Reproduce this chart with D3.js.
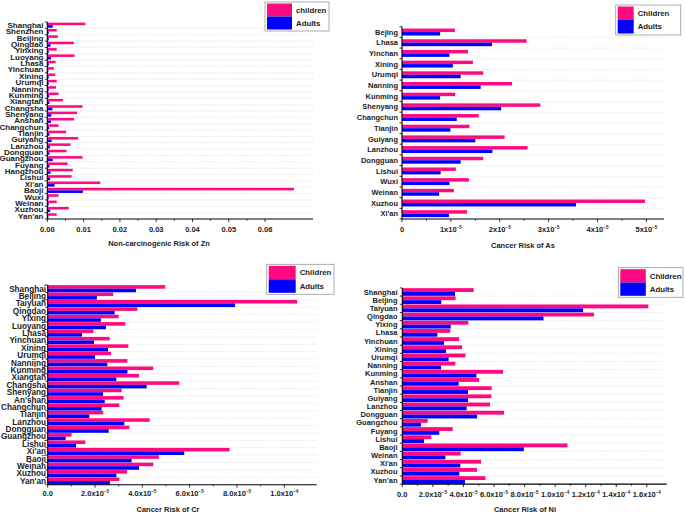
<!DOCTYPE html>
<html><head><meta charset="utf-8">
<script src="https://cdn.jsdelivr.net/npm/d3@7/dist/d3.min.js"></script>
<style>
html,body{margin:0;padding:0;background:#fff;}
svg{display:block;font-family:"Liberation Sans",Arial,sans-serif;font-weight:bold;}
</style></head><body>
<svg id="chart" width="685" height="513"></svg>
<script>
// ---------- Panel A: Zn ----------
const znCities = ["Shanghai","Shenzhen","Beijing","Qingdao","Yinxing","Luoyang","Lhasa","Yinchuan","Xining","Urumqi","Nanning","Kunming","Xiangtan","Changsha","Shenyang","Anshan","Changchun","Tianjin","Guiyang","Lanzhou","Dongguan","Guangzhou","Fuyang","Hangzhou","Lishui","Xi'an","Baoji","Wuxi","Weinan","Xuzhou","Yan'an"];
const znChildren = [0.0105,0.0026,0.0029,0.0073,0.0026,0.0075,0.0023,0.0018,0.0022,0.0026,0.0024,0.0031,0.0043,0.0097,0.0082,0.0074,0.0031,0.0052,0.0085,0.0064,0.0053,0.0097,0.0056,0.0070,0.0067,0.0146,0.0680,0.0031,0.0026,0.0059,0.0026];
const znAdults   = [0.0015,0.0004,0.0004,0.0009,0.0004,0.0010,0.0004,0.0003,0.0004,0.0004,0.0004,0.0005,0.0006,0.0014,0.0011,0.0010,0.0005,0.0006,0.0012,0.0007,0.0006,0.0015,0.0006,0.0009,0.0008,0.0020,0.0098,0.0004,0.0004,0.0008,0.0003];
const znTicks = [0,0.01,0.02,0.03,0.04,0.05,0.06];
const znTickLabels = ["0.00","0.01","0.02","0.03","0.04","0.05","0.06"];

// ---------- Panel B: As ----------
const asCities = ["Bejing","Lhasa","Yinchan","Xining","Urumqi","Nanning","Kunming","Shenyang","Changchun","Tianjin","Guiyang","Lanzhou","Dongguan","Lishui","Wuxi","Weinan","Xuzhou","Xi'an"];
const asChildren = [1.08e-5,2.55e-5,1.35e-5,1.45e-5,1.66e-5,2.25e-5,1.09e-5,2.83e-5,1.57e-5,1.38e-5,2.10e-5,2.57e-5,1.66e-5,1.10e-5,1.37e-5,1.06e-5,4.97e-5,1.33e-5];
const asAdults   = [0.78e-5,1.84e-5,0.97e-5,1.04e-5,1.20e-5,1.61e-5,0.78e-5,2.03e-5,1.12e-5,0.99e-5,1.50e-5,1.85e-5,1.20e-5,0.79e-5,0.97e-5,0.76e-5,3.56e-5,0.96e-5];
const asTicks = [0,1e-5,2e-5,3e-5,4e-5,5e-5];
const asTickLabels = ["0","1x10^-5","2x10^-5","3x10^-5","4x10^-5","5x10^-5"];

// ---------- Panel C: Cr ----------
const crCities = ["Shanghai","Beijing","Taiyuan","Qingdao","Yixing","Luoyang","Lhasa","Yinchuan","Xining","Urumqi","Nanniing","Kunming","Xiangtan","Changsha","Shenyang","An'shan","Changchun","Tianjin","Lanzhou","Dongguan","Guangzhou","Lishui","Xi'an","Baoji","Weinan","Xuzhou","Yan'an"];
const crChildren = [4.97e-5,2.77e-5,10.54e-5,3.79e-5,3.00e-5,3.28e-5,1.93e-5,2.62e-5,3.41e-5,2.68e-5,3.37e-5,4.46e-5,3.86e-5,5.56e-5,3.13e-5,3.21e-5,3.03e-5,2.35e-5,4.31e-5,3.45e-5,1.01e-5,1.59e-5,7.69e-5,4.70e-5,4.46e-5,3.35e-5,3.03e-5];
const crAdults   = [3.73e-5,2.08e-5,7.92e-5,2.83e-5,2.25e-5,2.46e-5,1.45e-5,1.96e-5,2.55e-5,2.00e-5,2.52e-5,3.37e-5,2.90e-5,4.18e-5,2.34e-5,2.41e-5,2.28e-5,1.76e-5,3.24e-5,2.58e-5,0.76e-5,1.20e-5,5.77e-5,3.55e-5,3.86e-5,2.90e-5,2.63e-5];
const crTicks = [0,2e-5,4e-5,6e-5,8e-5,1e-4];
const crTickLabels = ["0.0","2.0x10^-5","4.0x10^-5","6.0x10^-5","8.0x10^-5","1.0x10^-4"];

// ---------- Panel D: Ni ----------
const niCities = ["Shanghai","Beijing","Taiyuan","Qingdao","Yixing","Lhasa","Yinchuan","Xining","Urumqi","Nanning","Kunming","Anshan","Tianjin","Guiyang","Lanzhou","Dongguan","Guangzhou","Fuyang","Lishui","Baoji","Weinan","Xi'an","Xuzhou","Yan'an"];
const niChildren = [4.67e-5,3.49e-5,16.1e-5,12.55e-5,4.32e-5,3.14e-5,3.71e-5,3.91e-5,4.13e-5,3.47e-5,6.59e-5,5.02e-5,5.85e-5,5.83e-5,5.74e-5,6.66e-5,1.66e-5,3.30e-5,1.90e-5,10.81e-5,3.82e-5,5.15e-5,4.89e-5,5.44e-5];
const niAdults   = [3.45e-5,2.55e-5,11.83e-5,9.24e-5,3.17e-5,2.29e-5,2.73e-5,2.86e-5,3.03e-5,2.53e-5,4.85e-5,3.69e-5,4.30e-5,4.30e-5,4.21e-5,4.89e-5,1.22e-5,2.42e-5,1.42e-5,7.95e-5,2.82e-5,3.80e-5,3.73e-5,4.10e-5];
const niTicks = [0,2e-5,4e-5,6e-5,8e-5,1e-4,1.2e-4,1.4e-4,1.6e-4];
const niTickLabels = ["0.0","2.0x10^-5","4.0x10^-5","6.0x10^-5","8.0x10^-5","1.0x10^-4","1.2x10^-4","1.4x10^-4","1.6x10^-4"];

const seriesNames = ["Children","Adults"];
const PINK = "#ff0a80", BLUE = "#0000ff";

const svg = d3.select("#chart");

function drawPanel(cfg){
  const g = svg.append("g");
  const x = d3.scaleLinear().domain([0, cfg.xMax]).range([cfg.x0, cfg.x1]);
  const y = d3.scaleBand().domain(cfg.cities).range([cfg.yTop, cfg.yBot])
              .paddingInner(cfg.pad).paddingOuter(cfg.pad/2);
  const step = y.step(), bw = y.bandwidth();
  const half = bw/2;

  // dotted grid lines at category boundaries
  g.selectAll("line.grid").data(cfg.cities.slice(1)).enter().append("line")
    .attr("x1", cfg.x0).attr("x2", cfg.x1)
    .attr("y1", d => y(d) - step*cfg.pad/2).attr("y2", d => y(d) - step*cfg.pad/2)
    .attr("stroke", "#d8d8d8").attr("stroke-width", 0.8).attr("stroke-dasharray", "1,1.5");

  // bars
  const rows = cfg.cities.map((c,i) => ({c, ch: cfg.children[i], ad: cfg.adults[i]}));
  g.selectAll("rect.ch").data(rows).enter().append("rect")
    .attr("x", x(0)).attr("y", d => y(d.c)).attr("width", d => x(d.ch) - x(0)).attr("height", half)
    .attr("fill", PINK);
  g.selectAll("rect.ad").data(rows).enter().append("rect")
    .attr("x", x(0)).attr("y", d => y(d.c) + half).attr("width", d => x(d.ad) - x(0)).attr("height", half)
    .attr("fill", BLUE);

  // y axis
  g.append("line").attr("x1", cfg.x0).attr("x2", cfg.x0).attr("y1", cfg.yTop).attr("y2", cfg.yBot)
    .attr("stroke", "#000").attr("stroke-width", 1.1);
  const bounds = d3.range(cfg.cities.length + 1).map(i => cfg.yTop + i*step);
  g.selectAll("line.ytick").data(bounds).enter().append("line")
    .attr("x1", cfg.x0 - 2.5).attr("x2", cfg.x0).attr("y1", d => d).attr("y2", d => d)
    .attr("stroke", "#000").attr("stroke-width", 0.8);
  g.selectAll("text.ylab").data(cfg.cities).enter().append("text")
    .attr("x", cfg.labelX).attr("y", d => y(d) + half)
    .attr("dy", "0.35em").attr("text-anchor", "end")
    .attr("font-size", cfg.labelSize).attr("fill", "#222")
    .text(d => d);

  // x axis
  g.append("line").attr("x1", cfg.x0).attr("x2", cfg.x1).attr("y1", cfg.yBot).attr("y2", cfg.yBot)
    .attr("stroke", "#000").attr("stroke-width", 1.1);
  g.selectAll("line.xtick").data(cfg.ticks).enter().append("line")
    .attr("x1", d => x(d)).attr("x2", d => x(d)).attr("y1", cfg.yBot).attr("y2", cfg.yBot + 3)
    .attr("stroke", "#000").attr("stroke-width", 0.8);
  const minor = d3.range(cfg.ticks.length - 1).map(i => (cfg.ticks[i] + cfg.ticks[i+1]) / 2);
  g.selectAll("line.xminor").data(minor).enter().append("line")
    .attr("x1", d => x(d)).attr("x2", d => x(d)).attr("y1", cfg.yBot).attr("y2", cfg.yBot + 1.8)
    .attr("stroke", "#000").attr("stroke-width", 0.7);
  const tl = g.selectAll("text.xlab").data(cfg.ticks).enter().append("text")
    .attr("x", d => x(d)).attr("y", cfg.tickY).attr("text-anchor", "middle")
    .attr("font-size", 7.5).attr("fill", "#222");
  tl.each(function(d, i){
    const parts = cfg.tickLabels[i].split("^");
    const t = d3.select(this);
    t.append("tspan").text(parts[0]);
    if (parts[1]) t.append("tspan").attr("dy", -3).attr("font-size", 4.5).text(parts[1].replace("-", "\u2212"));
  });
  g.append("text").attr("x", cfg.titleX).attr("y", cfg.titleY).attr("text-anchor", "middle")
    .attr("font-size", 7.5).attr("fill", "#222").text(cfg.title);

  // legend
  const L = cfg.legend;
  g.append("rect").attr("x", L.x).attr("y", L.y).attr("width", L.w).attr("height", L.h)
    .attr("fill", "#fff").attr("stroke", "#999").attr("stroke-width", 0.8);
  const ph = (L.h - 3) / 2;
  [PINK, BLUE].forEach((col, i) => {
    g.append("rect").attr("x", L.x + 2).attr("y", L.y + 1.5 + i*ph).attr("width", L.pw).attr("height", ph)
      .attr("fill", col);
    g.append("text").attr("x", L.x + L.pw + 6).attr("y", L.y + 1.5 + i*ph + ph/2).attr("dy", "0.35em")
      .attr("font-size", 7.8).attr("fill", "#222").text(i === 0 ? cfg.legendNames[0] : cfg.legendNames[1]);
  });
}

drawPanel({cities: znCities, children: znChildren, adults: znAdults, xMax: 0.0732,
  x0: 47.3, x1: 313, yTop: 22, yBot: 219, pad: 0.2, labelX: 43.5, labelSize: 8,
  ticks: znTicks, tickLabels: znTickLabels, tickY: 231.5, title: "Non-carcinogenic Risk of Zn",
  titleX: 159, titleY: 245.5, legendNames: ["children", "Adults"],
  legend: {x: 265, y: 2, w: 64, h: 29, pw: 25}});

drawPanel({cities: asCities, children: asChildren, adults: asAdults, xMax: 5.36e-5,
  x0: 402, x1: 664, yTop: 26.7, yBot: 219, pad: 0.35, labelX: 398, labelSize: 7.5,
  ticks: asTicks, tickLabels: asTickLabels, tickY: 231.5, title: "Cancer Risk of As",
  titleX: 523, titleY: 247.5, legendNames: seriesNames,
  legend: {x: 615.7, y: 5, w: 65, h: 30, pw: 16}});

drawPanel({cities: crCities, children: crChildren, adults: crAdults, xMax: 11.37e-5,
  x0: 47.7, x1: 316.7, yTop: 285, yBot: 484.7, pad: 0.04, labelX: 46, labelSize: 8.2,
  ticks: crTicks, tickLabels: crTickLabels, tickY: 496, title: "Cancer Risk of Cr",
  titleX: 168, titleY: 511.5, legendNames: seriesNames,
  legend: {x: 266.7, y: 264.3, w: 67.3, h: 30, pw: 27}});

drawPanel({cities: niCities, children: niChildren, adults: niAdults, xMax: 17.3e-5,
  x0: 402.3, x1: 666.7, yTop: 287.9, yBot: 484.1, pad: 0.06, labelX: 397.5, labelSize: 7.5,
  ticks: niTicks, tickLabels: niTickLabels, tickY: 496.5, title: "Cancer Risk of Ni",
  titleX: 525, titleY: 511.5, legendNames: seriesNames,
  legend: {x: 618.3, y: 267.7, w: 64.7, h: 29.6, pw: 25.5}});
</script>
</body></html>
